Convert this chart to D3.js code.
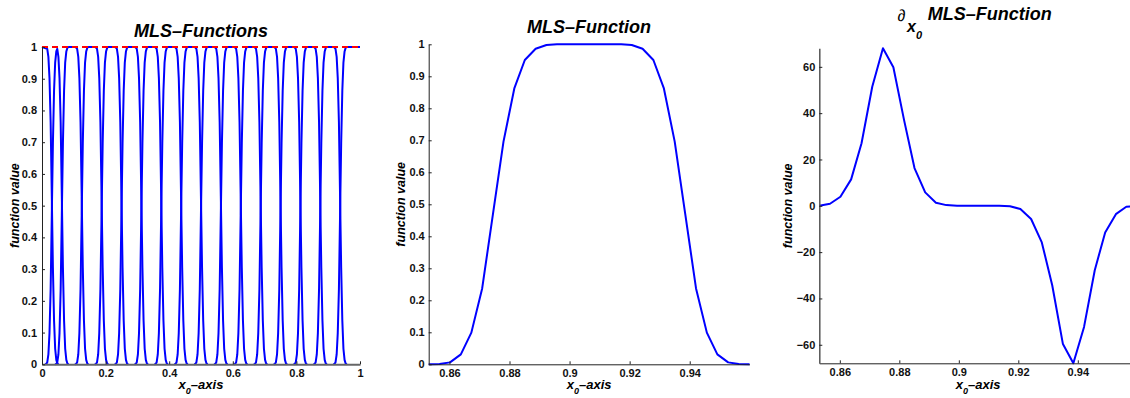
<!DOCTYPE html>
<html>
<head>
<meta charset="utf-8">
<script src="https://cdn.jsdelivr.net/npm/d3@7"></script>
<style>
  body { margin: 0; background: #fff; }
  text { font-family: "Liberation Sans", Arial, Helvetica, sans-serif; }
</style>
</head>
<body>
<div id="grafico"></div>
<script>
// panel 1: where two neighbouring MLS functions cross
const dips = [0.031, 0.0625, 0.125, 0.1875, 0.25, 0.3125, 0.375, 0.4375,
              0.5, 0.5625, 0.625, 0.6875, 0.75, 0.8125, 0.875, 0.9375];
// rising edge of one function, offset from its 0.5 crossing
const edgeOffset = [-0.0216, -0.0180, -0.0145, -0.0109, -0.0074, -0.0038, -0.0002,
                    0.0033, 0.0069, 0.0104, 0.0140, 0.0176, 0.0211];
const edgeValue  = [0, 0.001, 0.006, 0.031, 0.099, 0.237, 0.47,
                    0.696, 0.862, 0.951, 0.986, 0.998, 1];
// sum of all functions (red dashed)
const sumX = [0, 1];
const sumY = [1, 1];

// panel 2 and 3: one MLS function and its derivative
const mlsX = [0.8531, 0.8567, 0.8602, 0.8638, 0.8673, 0.8709, 0.8745, 0.8780,
              0.8816, 0.8851, 0.8887, 0.8923, 0.8958, 0.8994, 0.9029, 0.9065,
              0.9101, 0.9136, 0.9172, 0.9207, 0.9243, 0.9279, 0.9314, 0.9350,
              0.9385, 0.9421, 0.9457, 0.9492, 0.9528, 0.9563, 0.9599];
const mlsY = [0, 0.001, 0.006, 0.031, 0.099, 0.237, 0.47, 0.696,
              0.862, 0.951, 0.986, 0.998, 1, 1, 1, 1,
              1, 1, 1, 0.998, 0.986, 0.951, 0.862, 0.696,
              0.47, 0.237, 0.099, 0.031, 0.006, 0.001, 0];
const dMlsY = [0, 0.9, 3.9, 11.4, 27, 51.4, 68.0, 59.8,
               37, 16.3, 5.8, 1.3, 0.3, 0, 0, 0,
               0, 0, -0.2, -1.4, -5.7, -15.8, -34.3, -59.7,
               -68.0, -52.3, -27.8, -11.5, -3.6, -0.4, 0];

const ticks1X = [0, 0.2, 0.4, 0.6, 0.8, 1];
const ticksUnitY = [0, 0.1, 0.2, 0.3, 0.4, 0.5, 0.6, 0.7, 0.8, 0.9, 1];
const ticksZoomX = [0.86, 0.88, 0.9, 0.92, 0.94];
const ticks3Y = [-60, -40, -20, 0, 20, 40, 60];

const width  = 1130;
const height = 398;

const svg = d3.select("#grafico")
              .append("svg")
              .attr("width", width)
              .attr("height", height);

// build the partition of unity in panel 1 from the edge profile
const bounds = [0, ...dips, 1];
const functions = d3.range(bounds.length - 1).map(i => {
    const a = bounds[i], b = bounds[i + 1], mid = (a + b) / 2;
    const pts = [];
    if (a === 0) pts.push([0, 1]);
    else edgeOffset.forEach((o, k) => { if (a + o <= mid) pts.push([a + o, edgeValue[k]]); });
    if (b === 1) pts.push([1, 1]);
    else edgeOffset.forEach((o, k) => { if (b + o > mid) pts.push([b + o, 1 - edgeValue[k]]); });
    return pts;
});

function panel(cfg) {
    const g = svg.append("g");

    const x = d3.scaleLinear().domain(cfg.xDomain).range([cfg.left, cfg.right]);
    const y = d3.scaleLinear().domain(cfg.yDomain).range([cfg.bottom, cfg.top]);

    const line = d3.line().x(d => x(d[0])).y(d => y(d[1]));

    cfg.lines.forEach(l => {
        g.append("path")
         .datum(l.data)
         .attr("fill", "none")
         .attr("stroke", l.color)
         .attr("stroke-width", 2)
         .attr("stroke-dasharray", l.dash || null)
         .attr("stroke-linejoin", "round")
         .attr("d", line);
    });

    const xAxis = g.append("g")
                   .attr("transform", `translate(0, ${cfg.bottom})`)
                   .call(d3.axisBottom(x).tickValues(cfg.xTicks).tickFormat(d3.format("")).tickSizeInner(-3).tickSizeOuter(0).tickPadding(5));

    const yAxis = g.append("g")
                   .attr("transform", `translate(${cfg.left}, 0)`)
                   .call(d3.axisLeft(y).tickValues(cfg.yTicks).tickFormat(d3.format("")).tickSizeInner(-3).tickSizeOuter(0).tickPadding(cfg.yPad));

    [xAxis, yAxis].forEach(a => {
        a.selectAll("text")
         .attr("font-size", "11px")
         .attr("font-weight", "bold")
         .attr("fill", "#111");
        a.selectAll("line").attr("stroke", "#222");
        a.select(".domain").attr("stroke", "#222");
    });
    if (cfg.xAxisStyle) xAxis.select(".domain").attr("stroke", cfg.xAxisStyle[0]).attr("stroke-width", cfg.xAxisStyle[1]);
    if (cfg.yAxisStyle) yAxis.select(".domain").attr("stroke", cfg.yAxisStyle[0]).attr("stroke-width", cfg.yAxisStyle[1]);

    // x label
    const xl = g.append("text")
                .attr("x", (cfg.left + cfg.right) / 2)
                .attr("y", 389)
                .attr("text-anchor", "middle")
                .attr("font-weight", "bold")
                .attr("font-style", "italic")
                .attr("font-size", "13px");
    xl.append("tspan").text("x");
    xl.append("tspan").attr("font-size", "9px").attr("dy", 5).text("0");
    xl.append("tspan").attr("dy", -5).text("–axis");

    // y label
    g.append("text")
     .attr("transform", `translate(${cfg.yLabelX}, ${(cfg.top + cfg.bottom) / 2}) rotate(-90)`)
     .attr("text-anchor", "middle")
     .attr("font-weight", "bold")
     .attr("font-style", "italic")
     .attr("font-size", "12.5px")
     .text("function value");

    if (cfg.title) {
        g.append("text")
         .attr("x", (cfg.left + cfg.right) / 2)
         .attr("y", cfg.titleY)
         .attr("text-anchor", "middle")
         .attr("font-weight", "bold")
         .attr("font-style", "italic")
         .attr("font-size", "18px")
         .text(cfg.title);
    }
    return g;
}

panel({
    left: 42, right: 360, top: 47, bottom: 364.3,
    xDomain: [0, 1], yDomain: [0, 1],
    xTicks: ticks1X, yTicks: ticksUnitY, yPad: 5,
    xAxisStyle: ["#666", 2],
    yLabelX: 19.3,
    title: "MLS–Functions", titleY: 36.7,
    lines: functions.map(f => ({ data: f, color: "#0000ff" }))
           .concat([{ data: sumX.map((v, i) => [v, sumY[i]]), color: "#ff0000", dash: "6,4" }])
});

panel({
    left: 428.7, right: 749.5, top: 44.3, bottom: 364.3,
    xDomain: d3.extent(mlsX), yDomain: [0, 1],
    xTicks: ticksZoomX, yTicks: ticksUnitY, yPad: 4,
    yLabelX: 405,
    title: "MLS–Function", titleY: 33.3,
    lines: [{ data: mlsX.map((v, i) => [v, mlsY[i]]), color: "#0000ff" }]
});

panel({
    left: 819.3, right: 1137, top: 48.3, bottom: 363.3,
    xDomain: d3.extent(mlsX), yDomain: d3.extent(dMlsY),
    xTicks: ticksZoomX, yTicks: ticks3Y, yPad: 4,
    yAxisStyle: ["#555", 1.5],
    yLabelX: 791.7,
    lines: [{ data: mlsX.map((v, i) => [v, dMlsY[i]]), color: "#0000ff" }]
});

// title of panel 3: \partial_{x_0} MLS-Function
svg.append("text")
   .attr("x", 897.5).attr("y", 20.5)
   .attr("font-size", "16px")
   .text("∂");
svg.append("text")
   .attr("x", 907).attr("y", 31.7)
   .attr("font-size", "16px").attr("font-weight", "bold").attr("font-style", "italic")
   .text("x");
svg.append("text")
   .attr("x", 916).attr("y", 39)
   .attr("font-size", "11px").attr("font-weight", "bold").attr("font-style", "italic")
   .text("0");
svg.append("text")
   .attr("x", 927.7).attr("y", 20)
   .attr("font-size", "18px").attr("font-weight", "bold").attr("font-style", "italic")
   .text("MLS–Function");
</script>
</body>
</html>
